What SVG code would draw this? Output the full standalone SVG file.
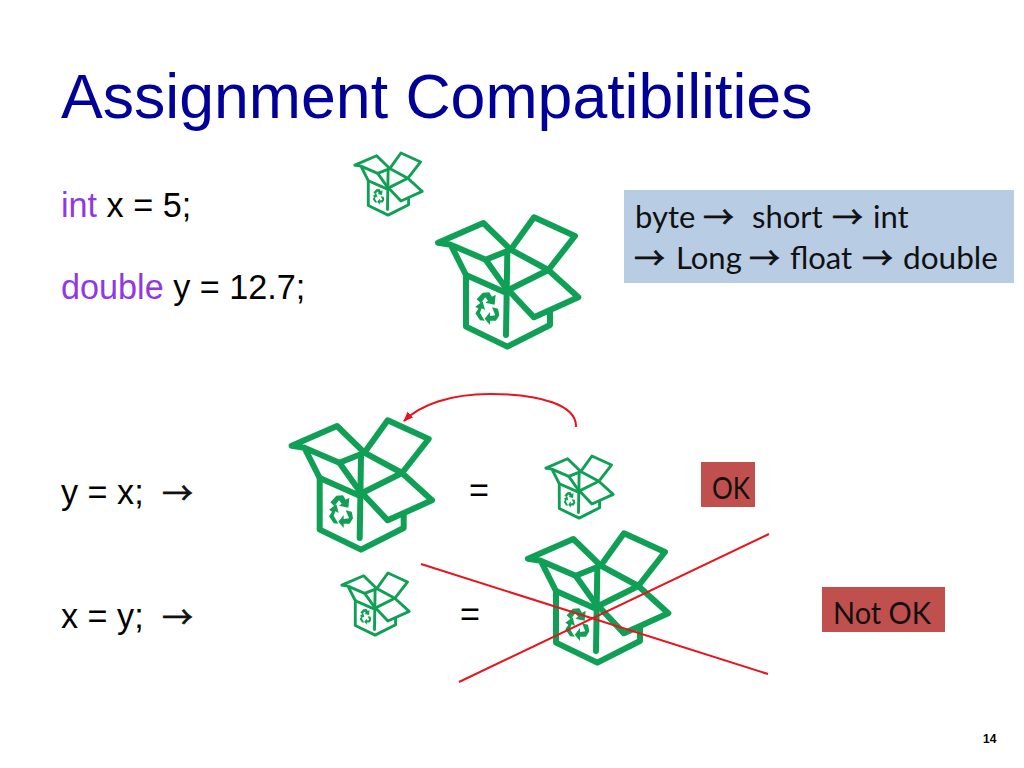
<svg xmlns="http://www.w3.org/2000/svg" width="1024" height="768" viewBox="0 0 1024 768">
<style>
text{font-family:"Liberation Sans",Arial,sans-serif;fill:#000}
.t{font-size:62.6px;fill:#000099}
.b{font-size:34.2px}
.k{fill:#8a2be2;fill-opacity:.95}
.c{font-family:Lato,"Liberation Sans",sans-serif;font-size:31px;fill:#111}
.a{font-family:"Noto Sans CJK SC",sans-serif;font-size:31px;fill:#111;stroke:#111;stroke-width:.6}
.g{fill:none;stroke:#10a055;stroke-width:18;stroke-linejoin:round;stroke-linecap:round}
.r{fill:#10a055}
.x{stroke:#e8141c;stroke-width:2;fill:none}
</style>
<defs>
<marker id="ah" markerWidth="10" markerHeight="8" refX="9" refY="4" orient="auto" markerUnits="userSpaceOnUse"><path d="M0,0L10,4L0,8z" fill="#e8141c"/></marker>
<g id="box">
<path class="g" d="M108,195V350L232,410L360,345V305M232,125L228,375M108,195L228,248"/>
<path class="g" d="M24,98L160,39L242,119M24,98L62,104L167,149L230,238M62,104L108,195"/>
<path class="g" d="M242,119L312,22L435,78L355,180M167,149L242,119L355,180L235,240"/>
<path class="g" d="M355,180L445,262L312,322L235,240"/>
<path class="r" d="M140,268L158,248L178,247L186,260L197,254L194,284L166,278L174,272L166,262L152,280z"/>
<path class="r" d="M186,292L204,296L208,316L198,332L180,332L180,345L164,326L180,306L180,318L196,316z"/>
<path class="r" d="M136,290L158,274L165,300L155,295L150,308L164,332L150,331L136,310L145,296z"/>
</g>
</defs>
<rect width="1024" height="768" fill="#fff"/>
<g id="title"><text class="t" x="61" y="118">Assignment Compatibilities</text></g>
<g id="decl1"><text class="b" x="61" y="217"><tspan class="k">int</tspan> x = 5;</text></g>
<g id="decl2"><text class="b" x="61" y="299"><tspan class="k">double</tspan> y = 12.7;</text></g>
<g id="box-small-top"><use href="#box" transform="translate(351,149.5) scale(.16)"/></g>
<g id="box-big-top"><use href="#box" transform="translate(430,210) scale(.3333)"/></g>
<g id="chain">
<rect x="624" y="190" width="390" height="93" fill="#b8cce4"/>
<text class="c" x="635" y="228">byte</text><text class="a" x="703" y="228">→</text><text class="c" x="752" y="228">short</text><text class="a" x="832" y="228">→</text><text class="c" x="873" y="228">int</text>
<text class="a" x="634" y="269">→</text><text class="c" x="676" y="269">Long</text><text class="a" x="749" y="269">→</text><text class="c" x="790" y="269">float</text><text class="a" x="862" y="269">→</text><text class="c" x="903" y="269" textLength="95" lengthAdjust="spacingAndGlyphs">double</text>
</g>
<g id="row1">
<text class="b" x="61" y="504">y = x;</text><text class="a" x="162" y="504">→</text>
<use href="#box" transform="translate(283.7,413) scale(.3333)"/>
<text class="b" x="469" y="502">=</text>
<use href="#box" transform="translate(542,452.5) scale(.16)"/>
</g>
<g id="ok"><rect x="701" y="462" width="54" height="45" fill="#c0504d"/><text class="c" x="712" y="499" textLength="38" lengthAdjust="spacingAndGlyphs">OK</text></g>
<g id="row2">
<text class="b" x="61" y="628">x = y;</text><text class="a" x="162" y="628">→</text>
<use href="#box" transform="translate(338,569.5) scale(.16)"/>
<text class="b" x="460" y="626">=</text>
<use href="#box" transform="translate(520,526) scale(.3333)"/>
</g>
<g id="notok"><rect x="822" y="587" width="123" height="45" fill="#c0504d"/><text class="c" x="833" y="624" textLength="98" lengthAdjust="spacingAndGlyphs">Not OK</text></g>
<g id="connectors">
<path class="x" d="M576,427C577,405 540,394 490,394C450,394 420,405 404,421" marker-end="url(#ah)"/>
<path class="x" d="M421,564L768,674M769,534L459,682"/>
</g>
<g id="page"><text x="983" y="743" font-size="12" font-weight="bold">14</text></g>
</svg>
